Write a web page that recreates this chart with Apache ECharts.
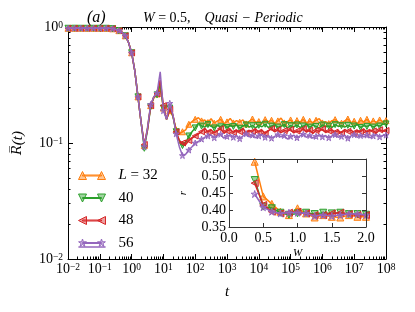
<!DOCTYPE html>
<html><head><meta charset="utf-8">
<script src="https://cdn.jsdelivr.net/npm/echarts@6/dist/echarts.min.js"></script>
<style>html,body{margin:0;padding:0;background:#fff}#c{width:415px;height:312px}</style>
</head><body><div id="c"></div>
<script>
// ---- data ----
const tExp = [
  -2,-1.9,-1.8,-1.7,-1.6,-1.5,-1.4,-1.3,-1.2,-1.1,
  -1,-0.9,-0.8,-0.7,-0.6,-0.5,-0.4,-0.3,-0.2,-0.1,
  0,0.1,0.2,0.3,0.4,0.5,0.6,0.7,0.8,0.9,
  1,1.1,1.2,1.3,1.4,1.5,1.6,1.7,1.8,1.9,
  2,2.1,2.2,2.3,2.4,2.5,2.6,2.7,2.8,2.9,
  3,3.1,3.2,3.3,3.4,3.5,3.6,3.7,3.8,3.9,
  4,4.1,4.2,4.3,4.4,4.5,4.6,4.7,4.8,4.9,
  5,5.1,5.2,5.3,5.4,5.5,5.6,5.7,5.8,5.9,
  6,6.1,6.2,6.3,6.4,6.5,6.6,6.7,6.8,6.9,
  7,7.1,7.2,7.3,7.4,7.5,7.6,7.7,7.8,7.9,
  8
];
const seriesNames = ['L = 32', '40', '48', '56'];
const R32 = [
  0.975,0.976,0.975,0.975,0.976,0.975,0.975,0.976,0.975,0.975,
  0.975,0.975,0.974,0.972,0.965,0.95,0.93,0.90,0.84,0.74,
  0.60,0.42,0.25,0.15,0.095,0.135,0.21,0.245,0.265,0.30,
  0.20,0.16,0.19,0.17,0.13,0.12,0.125,0.13,0.145,0.153,
  0.160,0.165,0.155,0.158,0.150,0.162,0.148,0.155,0.160,0.147,
  0.152,0.163,0.149,0.156,0.151,0.158,0.146,0.154,0.161,0.150,
  0.153,0.148,0.159,0.152,0.157,0.147,0.155,0.164,0.149,0.153,
  0.158,0.146,0.156,0.151,0.160,0.148,0.154,0.150,0.157,0.162,
  0.149,0.153,0.147,0.156,0.159,0.151,0.148,0.155,0.161,0.150,
  0.154,0.146,0.157,0.152,0.160,0.149,0.155,0.151,0.158,0.153,
  0.156
];
const R40 = [
  0.975,0.975,0.976,0.975,0.975,0.976,0.975,0.975,0.975,0.976,
  0.975,0.975,0.975,0.974,0.968,0.95,0.93,0.90,0.84,0.74,
  0.60,0.42,0.25,0.15,0.09,0.13,0.205,0.25,0.26,0.32,
  0.20,0.16,0.20,0.17,0.125,0.105,0.095,0.10,0.115,0.125,
  0.135,0.148,0.140,0.137,0.144,0.139,0.135,0.142,0.138,0.145,
  0.136,0.141,0.139,0.144,0.134,0.140,0.143,0.137,0.141,0.135,
  0.142,0.138,0.145,0.136,0.140,0.143,0.137,0.139,0.144,0.135,
  0.141,0.138,0.143,0.136,0.140,0.145,0.137,0.142,0.139,0.135,
  0.143,0.138,0.140,0.136,0.144,0.139,0.141,0.137,0.142,0.138,
  0.140,0.144,0.136,0.141,0.139,0.143,0.137,0.142,0.140,0.145,
  0.146
];
const R48 = [
  0.976,0.975,0.975,0.976,0.975,0.975,0.976,0.975,0.975,0.975,
  0.975,0.975,0.975,0.974,0.968,0.95,0.93,0.90,0.84,0.74,
  0.60,0.42,0.25,0.15,0.097,0.13,0.21,0.25,0.265,0.35,
  0.21,0.16,0.195,0.175,0.125,0.105,0.10,0.097,0.105,0.11,
  0.115,0.12,0.125,0.134,0.124,0.130,0.122,0.128,0.133,0.121,
  0.127,0.131,0.123,0.129,0.125,0.134,0.122,0.128,0.126,0.132,
  0.124,0.129,0.121,0.127,0.133,0.125,0.130,0.123,0.128,0.126,
  0.131,0.122,0.127,0.125,0.133,0.124,0.129,0.121,0.128,0.126,
  0.132,0.123,0.127,0.130,0.124,0.128,0.122,0.131,0.126,0.129,
  0.123,0.128,0.125,0.132,0.124,0.129,0.127,0.122,0.130,0.126,
  0.128
];
const R56 = [
  0.975,0.975,0.975,0.975,0.976,0.975,0.975,0.975,0.976,0.975,
  0.975,0.975,0.975,0.974,0.968,0.95,0.93,0.90,0.84,0.74,
  0.60,0.42,0.25,0.15,0.093,0.135,0.215,0.25,0.27,0.41,
  0.19,0.16,0.22,0.175,0.12,0.093,0.078,0.08,0.087,0.093,
  0.100,0.103,0.108,0.112,0.115,0.117,0.111,0.116,0.119,0.110,
  0.114,0.118,0.112,0.116,0.109,0.115,0.120,0.113,0.117,0.111,
  0.115,0.119,0.112,0.116,0.110,0.114,0.118,0.113,0.116,0.108,
  0.114,0.117,0.111,0.115,0.119,0.112,0.116,0.110,0.114,0.118,
  0.113,0.116,0.111,0.115,0.118,0.112,0.114,0.117,0.110,0.115,
  0.118,0.112,0.116,0.113,0.117,0.111,0.115,0.119,0.113,0.116,
  0.117
];
const Wvals = [0.375,0.5,0.625,0.75,0.875,1.0,1.125,1.25,1.375,1.5,1.625,1.75,1.875,2.0];
const r32 = [0.542,0.440,0.418,0.395,0.385,0.405,0.390,0.378,0.385,0.380,0.378,0.385,0.380,0.380];
const r40 = [0.488,0.410,0.405,0.392,0.386,0.390,0.392,0.388,0.392,0.390,0.392,0.388,0.388,0.386];
const r48 = [0.479,0.415,0.395,0.390,0.392,0.395,0.390,0.385,0.385,0.390,0.392,0.388,0.385,0.385];
const r56 = [0.447,0.408,0.395,0.390,0.392,0.392,0.390,0.382,0.385,0.382,0.385,0.388,0.388,0.385];
const xTickExps = [-2,-1,0,1,2,3,4,5,6,7,8];
const yTickExps = [-2,-1,0];
const insetXTicks = [0, 0.5, 1.0, 1.5, 2.0];
const insetYTicks = [0.35, 0.40, 0.45, 0.50, 0.55];

// ---- styling ----
const FONT = 'Liberation Serif';
const colors = ['#ff7f0e', '#2ca02c', '#d62728', '#9467bd'];
const fills = ['rgba(255,127,14,0.45)', 'rgba(44,160,44,0.45)', 'rgba(214,39,40,0.45)', 'rgba(148,103,189,0.45)'];
const STAR = 'path://M50,0L61.2,34.5L97.6,34.5L68.2,55.9L79.4,90.5L50,69.1L20.6,90.5L31.8,55.9L2.4,34.5L38.8,34.5Z';
const symbols = ['triangle', 'triangle', 'triangle', STAR];
const rotations = [0, 180, 90, 0];
const legendIcons = [
  'path://M0,8L4,0L8,8ZM4,3.5L23,3.5L23,4.5L4,4.5ZM19,8L23,0L27,8Z',
  'path://M0,0L8,0L4,8ZM4,3.5L23,3.5L23,4.5L4,4.5ZM19,0L27,0L23,8Z',
  'path://M0,4L8,0L8,8ZM4,3.5L23,3.5L23,4.5L4,4.5ZM19,4L27,0L27,8Z',
  'path://M4,0L4.9,2.8L7.9,2.8L5.5,4.5L6.4,7.3L4,5.6L1.6,7.3L2.5,4.5L0.1,2.8L3.1,2.8ZM4,3.5L23,3.5L23,4.5L4,4.5ZM23,0L23.9,2.8L26.9,2.8L24.5,4.5L25.4,7.3L23,5.6L20.6,7.3L21.5,4.5L19.1,2.8L22.1,2.8ZM0,8L0,8L27,8Z'
];
const mainData = [R32, R40, R48, R56];
const insetData = [r32, r40, r48, r56];

const xMajor = xTickExps.map(e => Math.pow(10, e));
const yMajor = yTickExps.map(e => Math.pow(10, e));
const xMinor = [], yMinor = [];
for (let d = -2; d < 8; d++) for (let m = 2; m <= 9; m++) xMinor.push(m * Math.pow(10, d));
for (let d = -2; d < 0; d++) for (let m = 2; m <= 9; m++) yMinor.push(m * Math.pow(10, d));

const supRich = {
  b: { fontFamily: FONT, fontSize: 14, lineHeight: 14, color: '#000' },
  s: { fontFamily: FONT, fontSize: 9.5, lineHeight: 9, verticalAlign: 'top', color: '#000' }
};
function powFmt(v) {
  const e = Math.round(Math.log10(v));
  return '{b|10}{s|' + (e < 0 ? '\u2212' + (-e) : e) + '}';
}
const frame = { show: true, onZero: false, lineStyle: { color: '#000', width: 1 } };

function logAxis(opts) {
  return Object.assign({
    type: 'log', logBase: 10, gridIndex: 0,
    splitLine: { show: false },
    axisLine: frame,
    axisLabel: { show: false },
  }, opts);
}

const xAxes = [
  logAxis({ position: 'bottom', min: 0.01, max: 1e8,
    axisTick: { show: true, inside: true, length: 5, customValues: xMajor, lineStyle: { color: '#000' } },
    axisLabel: { show: true, customValues: xMajor, formatter: powFmt, rich: supRich, margin: 3 },
    name: 't', nameLocation: 'middle', nameGap: 26,
    nameTextStyle: { fontFamily: FONT, fontStyle: 'italic', fontSize: 15, color: '#000' } }),
  logAxis({ position: 'bottom', min: 0.01, max: 1e8, axisLine: { show: false },
    axisTick: { show: true, inside: true, length: 2.5, customValues: xMinor, lineStyle: { color: '#000' } } }),
  logAxis({ position: 'top', min: 0.01, max: 1e8,
    axisTick: { show: true, inside: true, length: 5, customValues: xMajor, lineStyle: { color: '#000' } } }),
  logAxis({ position: 'top', min: 0.01, max: 1e8, axisLine: { show: false },
    axisTick: { show: true, inside: true, length: 2.5, customValues: xMinor, lineStyle: { color: '#000' } } }),
  { type: 'value', gridIndex: 1, position: 'bottom', min: 0, max: 2, interval: 0.5, z: 12,
    axisLine: { show: true, onZero: false, lineStyle: { color: '#333', width: 1 } },
    axisTick: { show: true, inside: true, length: 4, customValues: insetXTicks, lineStyle: { color: '#333' } },
    axisLabel: { show: true, customValues: insetXTicks, margin: 4, fontFamily: FONT, fontSize: 14, color: '#000', formatter: v => v.toFixed(1) },
    splitLine: { show: false },
    name: 'W', nameLocation: 'middle', nameGap: 21,
    nameTextStyle: { fontFamily: FONT, fontStyle: 'italic', fontSize: 11, color: '#000' } },
  { type: 'value', gridIndex: 1, position: 'top', min: 0, max: 2, interval: 0.5, z: 12,
    axisLine: { show: true, onZero: false, lineStyle: { color: '#333', width: 1 } },
    axisTick: { show: true, inside: true, length: 4, customValues: insetXTicks, lineStyle: { color: '#333' } },
    axisLabel: { show: false }, splitLine: { show: false } }
];
const yAxes = [
  logAxis({ position: 'left', min: 0.01, max: 1,
    axisTick: { show: true, inside: true, length: 5, customValues: yMajor, lineStyle: { color: '#000' } },
    axisLabel: { show: true, customValues: yMajor, formatter: powFmt, rich: supRich, margin: 5 },
    name: '{o|R\u0305}{n|(t)}', nameLocation: 'middle', nameGap: 38, nameRotate: 90,
    nameTextStyle: { fontFamily: FONT, fontStyle: 'italic', fontSize: 15, color: '#000', lineHeight: 20,
      rich: {
        o: { fontFamily: 'DejaVu Serif', fontStyle: 'italic', fontSize: 13, lineHeight: 20, color: '#000' },
        n: { fontFamily: FONT, fontStyle: 'italic', fontSize: 15, lineHeight: 20, color: '#000' }
      } } }),
  logAxis({ position: 'left', min: 0.01, max: 1, axisLine: { show: false },
    axisTick: { show: true, inside: true, length: 2.5, customValues: yMinor, lineStyle: { color: '#000' } } }),
  logAxis({ position: 'right', min: 0.01, max: 1,
    axisTick: { show: true, inside: true, length: 5, customValues: yMajor, lineStyle: { color: '#000' } } }),
  logAxis({ position: 'right', min: 0.01, max: 1, axisLine: { show: false },
    axisTick: { show: true, inside: true, length: 2.5, customValues: yMinor, lineStyle: { color: '#000' } } }),
  { type: 'value', gridIndex: 1, position: 'left', min: 0.35, max: 0.55, interval: 0.05, z: 12,
    axisLine: { show: true, onZero: false, lineStyle: { color: '#333', width: 1 } },
    axisTick: { show: true, inside: true, length: 4, customValues: insetYTicks, lineStyle: { color: '#333' } },
    axisLabel: { show: true, customValues: insetYTicks, margin: 3, fontFamily: FONT, fontSize: 14, color: '#000', formatter: v => v.toFixed(2) },
    splitLine: { show: false },
    name: 'r', nameLocation: 'middle', nameGap: 40, nameRotate: 90,
    nameTextStyle: { fontFamily: FONT, fontStyle: 'italic', fontSize: 11, color: '#000' } },
  { type: 'value', gridIndex: 1, position: 'right', min: 0.35, max: 0.55, interval: 0.05, z: 12,
    axisLine: { show: true, onZero: false, lineStyle: { color: '#333', width: 1 } },
    axisTick: { show: true, inside: true, length: 4, customValues: insetYTicks, lineStyle: { color: '#333' } },
    axisLabel: { show: false }, splitLine: { show: false } }
];

const series = [];
mainData.forEach((arr, k) => {
  series.push({
    name: seriesNames[k], type: 'line', xAxisIndex: 0, yAxisIndex: 0, z: 2 + k * 0.1,
    showAllSymbol: true, symbol: symbols[k], symbolSize: 6, symbolRotate: rotations[k],
    lineStyle: { color: colors[k], width: 1.5 },
    itemStyle: { color: fills[k], borderColor: colors[k], borderWidth: 1 },
    data: tExp.map((e, i) => (i % 2 === 0
      ? { value: [Math.pow(10, e), arr[i]] }
      : { value: [Math.pow(10, e), arr[i]], symbol: 'none' }))
  });
});
insetData.forEach((arr, k) => {
  series.push({
    name: seriesNames[k], type: 'line', xAxisIndex: 4, yAxisIndex: 4, z: 11 + k * 0.1,
    showAllSymbol: true, symbol: symbols[k], symbolSize: 7, symbolRotate: rotations[k],
    lineStyle: { color: colors[k], width: 1.5 },
    itemStyle: { color: fills[k], borderColor: colors[k], borderWidth: 1 },
    data: Wvals.map((w, i) => [w, arr[i]])
  });
});

const chart = echarts.init(document.getElementById('c'), null, { renderer: 'canvas' });
chart.setOption({
  animation: false,
  backgroundColor: '#fff',
  title: [
    { text: '(a)', left: 87, top: 10, padding: 0, textStyle: { fontFamily: FONT, fontStyle: 'italic', fontWeight: 'normal', fontSize: 16, color: '#000' } },
    { text: '{i|W} = 0.5,    {i|Quasi \u2212 Periodic}', left: 143, top: 11, padding: 0,
      textStyle: { fontFamily: FONT, fontWeight: 'normal', fontSize: 14, color: '#000',
        rich: { i: { fontFamily: FONT, fontStyle: 'italic', fontSize: 14, color: '#000' } } } }
  ],
  grid: [
    { left: 65, top: 27, width: 321, height: 232, containLabel: false },
    { left: 229, top: 159, width: 137, height: 68, containLabel: false, show: true, backgroundColor: '#fff', borderWidth: 0, z: 10 }
  ],
  legend: {
    orient: 'vertical', left: 78, top: 168, padding: 0, itemWidth: 27, itemHeight: 8, itemGap: 7.5,
    data: seriesNames.map((n, k) => ({ name: n, icon: legendIcons[k],
      itemStyle: { color: fills[k], borderColor: colors[k], borderWidth: 1 } })),
    formatter: n => (n.charAt(0) === 'L' ? '{i|L} = 32' : n),
    textStyle: { fontFamily: FONT, fontSize: 15, color: '#000', lineHeight: 14, padding: [0, 0, 0, 8],
      rich: { i: { fontFamily: FONT, fontStyle: 'italic', fontSize: 15, color: '#000' } } }
  },
  xAxis: xAxes,
  yAxis: yAxes,
  series: series
});
</script>
</body></html>
